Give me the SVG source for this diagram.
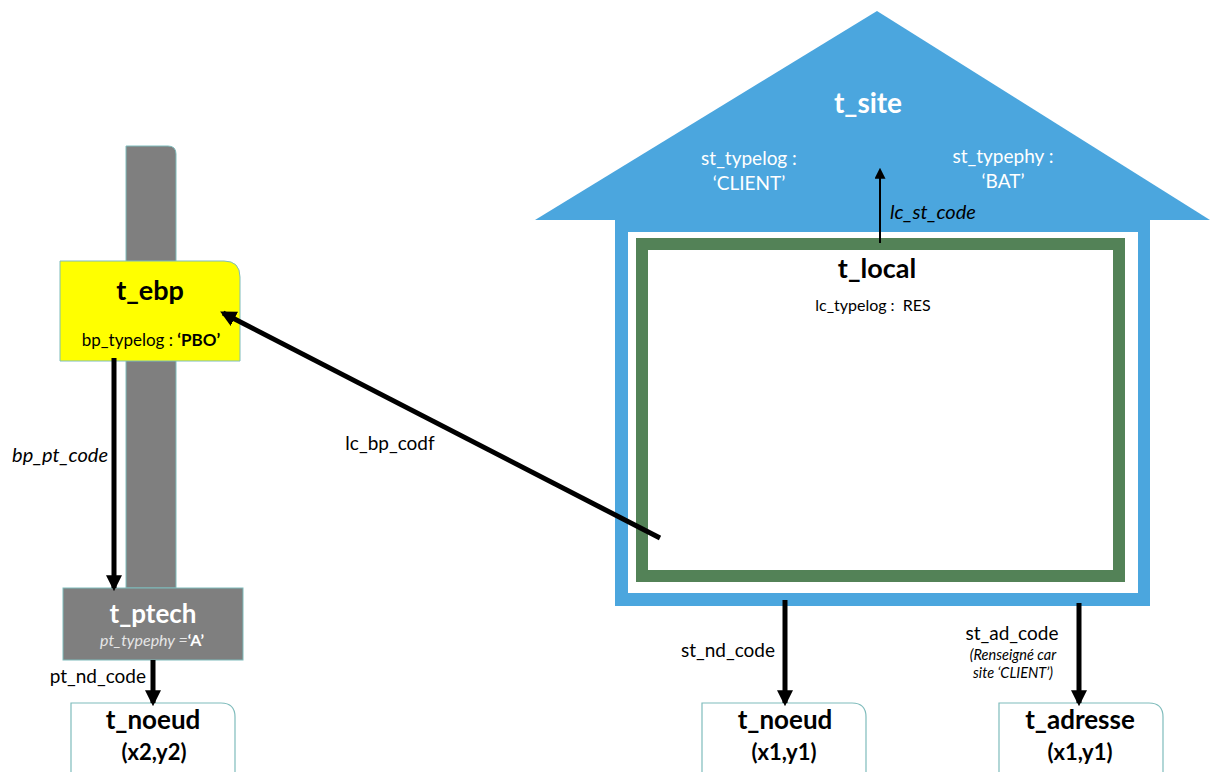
<svg xmlns="http://www.w3.org/2000/svg" width="1211" height="772" viewBox="0 0 1211 772">
<defs>
<style>
text{font-family:Lato,"Open Sans","Liberation Sans",sans-serif;}
.b{font-weight:bold;}
.i{font-style:italic;}
.node{fill:#fff;stroke:#7fbcbc;stroke-width:1.2;}
.thick{stroke:#000;stroke-width:5;fill:none;}
.thin{stroke:#000;stroke-width:2;fill:none;}
</style>
<marker id="ah" viewBox="0 0 10 10" refX="8" refY="5" markerWidth="16" markerHeight="16" markerUnits="userSpaceOnUse" orient="auto"><path d="M0,0 L10,5 L0,10 Z" fill="#000"/></marker>
<marker id="ahs" viewBox="0 0 10 10" refX="8" refY="5" markerWidth="11" markerHeight="11" markerUnits="userSpaceOnUse" orient="auto"><path d="M0,0 L10,5 L0,10 Z" fill="#000"/></marker>
</defs>
<rect width="1211" height="772" fill="#fff"/>

<g id="pole">
<path d="M126,588 V146 H168 Q176,146 176,154 V588 Z" fill="#7f7f7f" stroke="#7fbcbc" stroke-width="1"/>
</g>

<g id="t_site">
<polygon points="877,11 535,220 1210,220" fill="#4ba6de"/>
<rect x="615" y="219" width="535" height="387" fill="#4ba6de"/>
<rect x="628" y="232" width="510" height="361" fill="#fff"/>
<text x="868" y="113" font-size="28" class="b" fill="#fff" text-anchor="middle">t_site</text>
<text x="749" y="165" font-size="19" fill="#fff" text-anchor="middle">st_typelog :</text>
<text x="749" y="190" font-size="19" fill="#fff" text-anchor="middle">‘CLIENT’</text>
<text x="1003" y="163" font-size="19" fill="#fff" text-anchor="middle">st_typephy :</text>
<text x="1003" y="188" font-size="19" fill="#fff" text-anchor="middle">‘BAT’</text>
</g>

<g id="t_local">
<rect x="642" y="244" width="477" height="332" fill="#fff" stroke="#538257" stroke-width="12"/>
<text x="877" y="278" font-size="27" class="b" fill="#000" text-anchor="middle">t_local</text>
<text x="873" y="311" font-size="16" fill="#000" text-anchor="middle" xml:space="preserve">lc_typelog :  RES</text>
</g>

<g id="t_ebp">
<path d="M60,261 H224 Q240,261 240,277 V361 H60 Z" fill="#ffff00" stroke="#7fbcbc" stroke-width="1"/>
<text x="150" y="300" font-size="27" class="b" fill="#000" text-anchor="middle">t_ebp</text>
<text x="151" y="346" font-size="17" fill="#000" text-anchor="middle">bp_typelog : <tspan class="b">‘PBO’</tspan></text>
</g>

<g id="t_ptech">
<rect x="63" y="588" width="180" height="72" fill="#7f7f7f" stroke="#7fbcbc" stroke-width="1"/>
<text x="153" y="623" font-size="26" class="b" fill="#fff" text-anchor="middle">t_ptech</text>
<text x="152" y="646" font-size="16" class="i" fill="#e6e6e6" text-anchor="middle">pt_typephy =<tspan class="b" font-style="normal" fill="#fff">‘A’</tspan></text>
</g>

<g id="t_noeud_2">
<path d="M71,772 V703 H221 Q235,703 235,717 V772" class="node"/>
<text x="153" y="729" font-size="26" class="b" fill="#000" text-anchor="middle">t_noeud</text>
<text x="154" y="760" font-size="22" class="b" fill="#000" text-anchor="middle">(x2,y2)</text>
</g>

<g id="t_noeud_1">
<path d="M702,772 V703 H852 Q866,703 866,717 V772" class="node"/>
<text x="785" y="729" font-size="26" class="b" fill="#000" text-anchor="middle">t_noeud</text>
<text x="784" y="760" font-size="22" class="b" fill="#000" text-anchor="middle">(x1,y1)</text>
</g>

<g id="t_adresse">
<path d="M999,772 V703 H1149 Q1163,703 1163,717 V772" class="node"/>
<text x="1080" y="729" font-size="26" class="b" fill="#000" text-anchor="middle">t_adresse</text>
<text x="1080" y="760" font-size="22" class="b" fill="#000" text-anchor="middle">(x1,y1)</text>
</g>

<g id="connectors">
<line x1="114" y1="358" x2="114" y2="588" class="thick" marker-end="url(#ah)"/>
<line x1="153" y1="660" x2="153" y2="703" class="thick" marker-end="url(#ah)"/>
<line x1="660" y1="538" x2="223" y2="313" class="thick" marker-end="url(#ah)"/>
<line x1="880" y1="243" x2="880" y2="170" class="thin" marker-end="url(#ahs)"/>
<line x1="785" y1="600" x2="785" y2="703" class="thick" marker-end="url(#ah)"/>
<line x1="1079" y1="603" x2="1079" y2="703" class="thick" marker-end="url(#ah)"/>
</g>

<g id="labels">
<text x="108" y="462" font-size="20" class="i" fill="#000" text-anchor="end">bp_pt_code</text>
<text x="146" y="683" font-size="19" fill="#000" text-anchor="end">pt_nd_code</text>
<text x="390" y="450" font-size="19" fill="#000" text-anchor="middle">lc_bp_codf</text>
<text x="890" y="219" font-size="20" class="i" fill="#000">lc_st_code</text>
<text x="775" y="657" font-size="19" fill="#000" text-anchor="end">st_nd_code</text>
<text x="1012" y="640" font-size="19" fill="#000" text-anchor="middle">st_ad_code</text>
<text x="1013" y="660" font-size="14.5" class="i" fill="#000" text-anchor="middle">(Renseigné car</text>
<text x="1013" y="678" font-size="14.5" class="i" fill="#000" text-anchor="middle">site ‘CLIENT’)</text>
</g>
</svg>
